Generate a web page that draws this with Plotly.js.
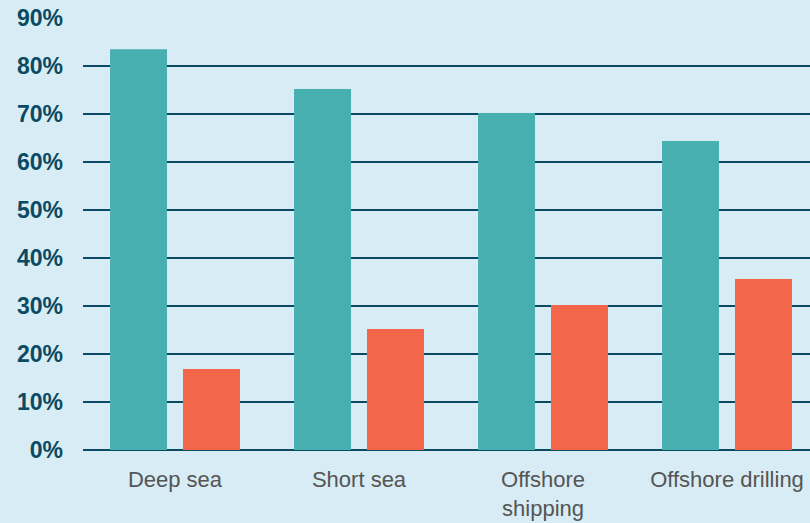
<!DOCTYPE html>
<html>
<head>
<meta charset="utf-8">
<script src="https://cdn.plot.ly/plotly-3.0.1.min.js"></script>
<style>html,body{margin:0;padding:0;background:#d7ecf4;}#chart{width:810px;height:523px;}</style>
</head>
<body>
<div id="chart"></div>
<script>
const categories = ["Deep sea", "Short sea", "Offshore<br>shipping", "Offshore drilling"];
const seriesA = [83.5, 75.2, 70.2, 64.4];
const seriesB = [16.9, 25.2, 30.2, 35.6];
const tickVals = [0, 10, 20, 30, 40, 50, 60, 70, 80, 90];
const tickText = ["0%", "10%", "20%", "30%", "40%", "50%", "60%", "70%", "80%", "90%"];

const traces = [
  {type: "bar", x: categories, y: seriesA, marker: {color: "#47afb0"}, hoverinfo: "skip"},
  {type: "bar", x: categories, y: seriesB, marker: {color: "#f26649"}, hoverinfo: "skip"}
];

const layout = {
  width: 810, height: 523,
  margin: {l: 83, r: 0, t: 18, b: 73},
  paper_bgcolor: "#d7ecf4",
  plot_bgcolor: "#d7ecf4",
  showlegend: false,
  barmode: "group",
  bargap: 0.207,
  bargroupgap: 0.219,
  xaxis: {
    type: "category",
    range: [-0.5, 3.451],
    showgrid: false,
    zeroline: false,
    showline: false,
    ticks: "",
    tickfont: {family: "Liberation Sans, Arial, sans-serif", size: 22, color: "#555555"},
    ticklabelstandoff: 14
  },
  yaxis: {
    range: [0, 90],
    tickvals: tickVals,
    ticktext: tickText,
    showgrid: true,
    gridcolor: "#0b4a63",
    gridwidth: 2,
    zeroline: true,
    zerolinecolor: "#0b4a63",
    zerolinewidth: 2,
    showline: false,
    ticks: "",
    tickfont: {family: "Liberation Sans, Arial, sans-serif", size: 23, color: "#0b4a63", weight: "bold"},
    ticklabelstandoff: 19
  }
};

Plotly.newPlot("chart", traces, layout, {displayModeBar: false, staticPlot: true});
</script>
</body>
</html>
